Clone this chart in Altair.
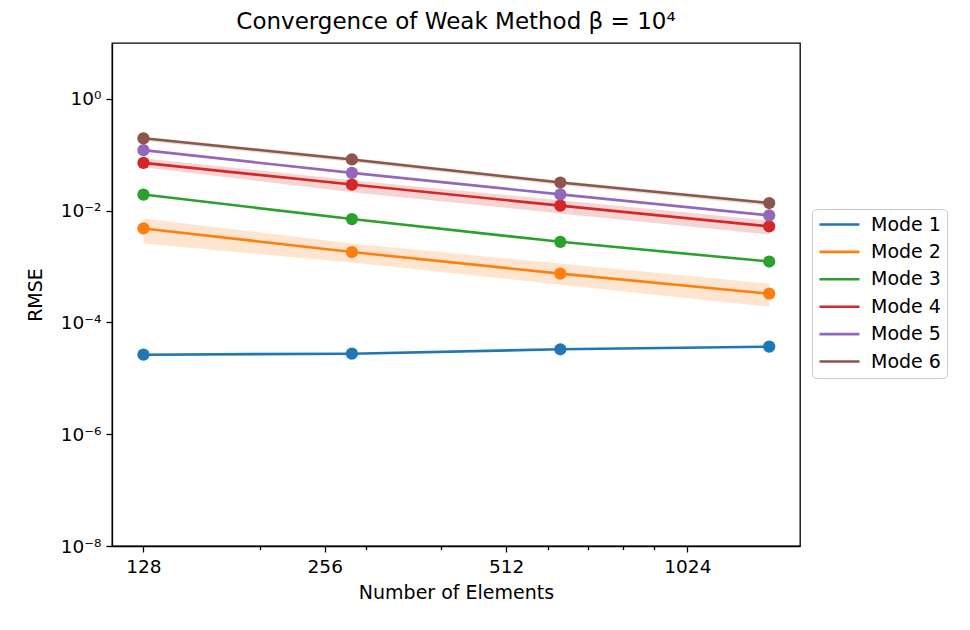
import altair as alt
import pandas as pd

# ---- data ----
modes = ["Mode 1", "Mode 2", "Mode 3", "Mode 4", "Mode 5", "Mode 6"]
colors = ["#1f77b4", "#ff7f0e", "#2ca02c", "#d62728", "#9467bd", "#8c564b"]
elements = [128, 284, 630, 1400]

rmse_m1 = [2.65e-5, 2.76e-5, 3.31e-5, 3.69e-5]
rmse_m2 = [4.81e-3, 1.82e-3, 7.47e-4, 3.27e-4]
rmse_m3 = [1.94e-2, 7.07e-3, 2.77e-3, 1.23e-3]
rmse_m4 = [7.16e-2, 2.93e-2, 1.23e-2, 5.22e-3]
rmse_m5 = [1.21e-1, 4.74e-2, 1.96e-2, 8.24e-3]
rmse_m6 = [1.97e-1, 8.25e-2, 3.19e-2, 1.37e-2]

low_m1 = [2.57e-5, 2.68e-5, 3.21e-5, 3.58e-5]
low_m2 = [2.58e-3, 1.18e-3, 4.74e-4, 1.91e-4]
low_m3 = [1.91e-2, 6.97e-3, 2.73e-3, 1.21e-3]
low_m4 = [6.00e-2, 2.13e-2, 8.94e-3, 3.75e-3]
low_m5 = [1.17e-1, 4.59e-2, 1.90e-2, 7.97e-3]
low_m6 = [1.78e-1, 7.45e-2, 2.88e-2, 1.23e-2]

high_m1 = [2.73e-5, 2.84e-5, 3.41e-5, 3.80e-5]
high_m2 = [7.27e-3, 2.58e-3, 1.13e-3, 4.94e-4]
high_m3 = [1.97e-2, 7.17e-3, 2.81e-3, 1.25e-3]
high_m4 = [8.71e-2, 3.50e-2, 1.53e-2, 6.70e-3]
high_m5 = [1.25e-1, 4.89e-2, 2.02e-2, 8.51e-3]
high_m6 = [2.11e-1, 8.85e-2, 3.43e-2, 1.48e-2]

x_major = [128, 256, 512, 1024]
x_minor = [200, 300, 400, 600, 700, 800, 900]
y_ticks = [1e-8, 1e-6, 1e-4, 1e-2, 1]
y_labels = ["10\u207b\u2078", "10\u207b\u2076", "10\u207b\u2074", "10\u207b\u00b2", "10\u2070"]

title_text = "Convergence of Weak Method \u03b2 = 10\u2074"

# ---- build table ----
rmse_all = [rmse_m1, rmse_m2, rmse_m3, rmse_m4, rmse_m5, rmse_m6]
low_all = [low_m1, low_m2, low_m3, low_m4, low_m5, low_m6]
high_all = [high_m1, high_m2, high_m3, high_m4, high_m5, high_m6]
rows = []
for m, r, lo, hi in zip(modes, rmse_all, low_all, high_all):
    for i, n in enumerate(elements):
        rows.append({"mode": m, "n": n, "rmse": r[i], "lo": lo[i], "hi": hi[i]})
df = pd.DataFrame(rows)

major_str = "[" + ",".join(str(v) for v in x_major) + "]"
ylab_str = "[" + ",".join("'" + s + "'" for s in y_labels) + "]"

x_scale = alt.Scale(type="log", base=2, domain=[113.5, 1575], nice=False)
x_axis = alt.Axis(
    values=sorted(x_major + x_minor),
    format="d",
    labelExpr="indexof(" + major_str + ", datum.value) >= 0 ? datum.label : ''",
    tickSize={"condition": {"test": "indexof(" + major_str + ", datum.value) >= 0", "value": 6}, "value": 3.5},
    titlePadding=8,
)
y_scale = alt.Scale(type="log", domain=[1e-8, 10], nice=False)
y_axis = alt.Axis(
    values=y_ticks,
    labelExpr=ylab_str + "[round(log(datum.value)/LN10/2)+4]",
    tickSize=6,
    titlePadding=15,
)
color_scale = alt.Scale(domain=modes, range=colors)

legend = alt.Legend(
    orient="none",
    legendX=700,
    legendY=166,
    symbolType="M-2.5,0H2.5",
    symbolStrokeWidth=2.6,
    symbolSize=256,
    symbolOpacity=1,
    symbolOffset=12,
    labelFontSize=19,
    labelFont="DejaVu Sans",
    labelColor="black",
    labelOffset=22,
    rowPadding=7.4,
    padding=6,
    strokeColor="#cccccc",
    fillColor="white",
    cornerRadius=4,
    title=None,
)
color_enc = alt.Color("mode:N", scale=color_scale, legend=legend, title=None)

base = alt.Chart(df)
x_enc = alt.X("n:Q", scale=x_scale, axis=x_axis, title="Number of Elements")

band = base.mark_area(opacity=0.2, strokeWidth=1, strokeOpacity=0.25).encode(
    x=x_enc,
    y=alt.Y("lo:Q", scale=y_scale, axis=y_axis, title="RMSE"),
    y2="hi:Q",
    color=color_enc,
)

line = base.mark_line(strokeWidth=2.6).encode(
    x=x_enc,
    y=alt.Y("rmse:Q", scale=y_scale, axis=y_axis, title="RMSE"),
    color=color_enc,
    order="n:Q",
)

points = base.mark_circle(size=150, opacity=1).encode(
    x=x_enc,
    y=alt.Y("rmse:Q", scale=y_scale, axis=y_axis, title="RMSE"),
    color=color_enc,
)

chart = (
    alt.layer(band, line, points)
    .properties(
        width=688,
        height=503,
        title=alt.TitleParams(title_text, frame="group", anchor="middle", offset=9),
        autosize=alt.AutoSizeParams(type="none"),
        padding={"left": 104, "top": 35, "right": 162, "bottom": 70},
        background="white",
    )
    .configure_view(stroke="black", strokeWidth=1.3)
    .configure_axis(
        grid=False,
        domainColor="black",
        domainWidth=1.3,
        tickColor="black",
        tickWidth=1.3,
        labelColor="black",
        titleColor="black",
        labelFont="DejaVu Sans",
        titleFont="DejaVu Sans",
        labelFontSize=18.5,
        titleFontSize=19,
        titleFontWeight="normal",
        labelPadding=5,
    )
    .configure_title(font="DejaVu Sans", fontSize=23, fontWeight="normal", color="black")
)

chart.save("out.html", embed_options={"renderer": "svg", "actions": False})
